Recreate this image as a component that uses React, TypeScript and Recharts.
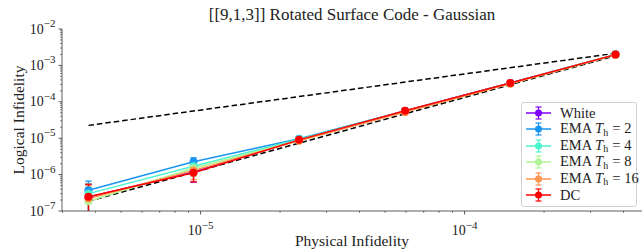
import React from 'react';
import { ComposedChart, Line, XAxis, YAxis, ErrorBar, Legend } from 'recharts';

// ---------- data ----------
const physicalInfidelity = [3.76e-6, 9.4e-6, 2.36e-5, 5.95e-5, 1.49e-4, 3.73e-4];

const whiteValues = [2.4e-7, 1.2e-6, 8.9e-6, 5.6e-5, 3.3e-4, 1.98e-3];
const ema2Values = [3.7e-7, 2.25e-6, 9.6e-6, 5.6e-5, 3.3e-4, 1.98e-3];
const ema4Values = [3.0e-7, 1.7e-6, 9.3e-6, 5.5e-5, 3.25e-4, 1.97e-3];
const ema8Values = [1.85e-7, 1.5e-6, 8.8e-6, 5.4e-5, 3.2e-4, 1.96e-3];
const ema16Values = [2.2e-7, 1.3e-6, 8.5e-6, 5.2e-5, 3.15e-4, 1.95e-3];
const dcValues = [2.45e-7, 1.12e-6, 9.0e-6, 5.7e-5, 3.3e-4, 1.98e-3];

// [lower, upper] error sizes
const whiteErrors = [[2.4e-7, 3.0e-7], [0.58e-6, 0.5e-6], [0, 0], [0, 0], [0, 0], [0, 0]];
const ema2Errors = [[3.7e-7, 2.9e-7], [0.7e-6, 0.65e-6], [0, 0], [0, 0], [0, 0], [0, 0]];
const ema4Errors = [[3.0e-7, 2.6e-7], [0.6e-6, 0.6e-6], [0, 0], [0, 0], [0, 0], [0, 0]];
const ema8Errors = [[1.85e-7, 2.6e-7], [0.6e-6, 0.6e-6], [0, 0], [0, 0], [0, 0], [0, 0]];
const ema16Errors = [[2.2e-7, 2.8e-7], [0.57e-6, 0.5e-6], [0, 0], [0, 0], [0, 0], [0, 0]];
const dcErrors = [[2.45e-7, 3.0e-7], [0.49e-6, 0.5e-6], [0, 0], [0, 0], [0, 0], [0, 0]];

// reference dashed lines (end points)
const refLineX = [3.76e-6, 3.73e-4];
const refLinearY = [2.25e-5, 2.15e-3];
const refQuadraticY = [1.84e-7, 1.85e-3];

const xMajorTicks = [1e-5, 1e-4];
const xMinorTicks = [3e-6, 4e-6, 5e-6, 6e-6, 7e-6, 8e-6, 9e-6, 2e-5, 3e-5, 4e-5, 5e-5, 6e-5, 7e-5, 8e-5, 9e-5, 2e-4, 3e-4, 4e-4];
const yMajorTicks = [1e-7, 1e-6, 1e-5, 1e-4, 1e-3, 1e-2];
const yMinorMultipliers = [2, 3, 4, 5, 6, 7, 8, 9];

const seriesKeys = ['white', 'ema2', 'ema4', 'ema8', 'ema16', 'dc'];
const seriesColors = ['#8000ff', '#1996f3', '#4df3ce', '#b2f396', '#ff964f', '#ff0000'];
const seriesValues = [whiteValues, ema2Values, ema4Values, ema8Values, ema16Values, dcValues];
const seriesErrors = [whiteErrors, ema2Errors, ema4Errors, ema8Errors, ema16Errors, dcErrors];
const legendLabels: Array<[string, string | null, string]> = [
  ['White', null, ''],
  ['EMA ', 'h', '2'],
  ['EMA ', 'h', '4'],
  ['EMA ', 'h', '8'],
  ['EMA ', 'h', '16'],
  ['DC', null, ''],
];

const TITLE = '[[9,1,3]] Rotated Surface Code - Gaussian';
const X_LABEL = 'Physical Infidelity';
const Y_LABEL = 'Logical Infidelity';

const X_DOMAIN: [number, number] = [2.985e-6, 4.7e-4];
const Y_DOMAIN: [number, number] = [1e-7, 1e-2];

// ---------- derived tables ----------
const data = physicalInfidelity.map((x, i) => {
  const row: Record<string, any> = { x };
  seriesKeys.forEach((k, s) => {
    const v = seriesValues[s][i];
    const [lo, hi] = seriesErrors[s][i];
    row[k] = v;
    if (v - lo <= Y_DOMAIN[0]) {
      row[k + 'Err'] = [0, hi];
      row[k + 'Clip'] = [v - Y_DOMAIN[0], 0];
    } else {
      row[k + 'Err'] = [lo, hi];
      row[k + 'Clip'] = [0, 0];
    }
  });
  return row;
});
const linearRef = refLineX.map((x, i) => ({ x, y: refLinearY[i] }));
const quadRef = refLineX.map((x, i) => ({ x, y: refQuadraticY[i] }));
const yMinorTicks = yMajorTicks.slice(0, -1).flatMap((m) => yMinorMultipliers.map((k) => k * m));
const xTicks = [...xMinorTicks, ...xMajorTicks].sort((a, b) => a - b);
const yTicks = [...yMinorTicks, ...yMajorTicks].sort((a, b) => a - b);

const FONT = 'Liberation Serif, Times New Roman, DejaVu Serif, serif';
const AXIS_COLOR = '#333';
const TEXT_COLOR = '#222';
const serifStyle = { fontFamily: FONT } as React.CSSProperties;

const isMajor = (v: number) => {
  const l = Math.log10(v);
  return Math.abs(l - Math.round(l)) < 1e-6;
};

const XTick = (props: any) => {
  const { x, y, payload } = props;
  const v = payload.value;
  const major = isMajor(v);
  const exp = Math.round(Math.log10(v));
  return (
    <g>
      <line x1={x} x2={x} y1={y} y2={y + (major ? 3.5 : 2)} stroke={AXIS_COLOR} strokeWidth={major ? 0.8 : 0.6} />
      {major && (
        <text x={x} y={y + 24} textAnchor="middle" fill={TEXT_COLOR} style={serifStyle}>
          <tspan fontSize={14}>10</tspan>
          <tspan fontSize={11} dy={-6.5}>{'\u2212' + Math.abs(exp)}</tspan>
        </text>
      )}
    </g>
  );
};

const YTick = (props: any) => {
  const { x, y, payload } = props;
  const v = payload.value;
  const major = isMajor(v);
  const exp = Math.round(Math.log10(v));
  return (
    <g>
      <line x1={x - (major ? 3.5 : 2)} x2={x} y1={y} y2={y} stroke={AXIS_COLOR} strokeWidth={major ? 0.8 : 0.6} />
      {major && (
        <text x={x - 6.5} y={y + 4.5} textAnchor="end" fill={TEXT_COLOR} style={serifStyle}>
          <tspan fontSize={14}>10</tspan>
          <tspan fontSize={11} dy={-6.5}>{'\u2212' + Math.abs(exp)}</tspan>
        </text>
      )}
    </g>
  );
};

const LegendBox = () => (
  <div
    style={{
      width: 116,
      height: 105,
      boxSizing: 'border-box',
      border: '1px solid #d0d0d0',
      borderRadius: 3,
      background: 'rgba(255,255,255,0.85)',
      position: 'relative',
      fontFamily: FONT,
      fontSize: 14.5,
      lineHeight: '16px',
      color: TEXT_COLOR,
    }}
  >
    {legendLabels.map((lab, i) => {
      const c = seriesColors[i];
      const top = 2.5 + i * 16.4;
      return (
        <div key={i} style={{ position: 'absolute', left: 3, top, height: 16, display: 'flex', alignItems: 'center', whiteSpace: 'nowrap' }}>
          <svg width={27} height={16} style={{ display: 'block' }}>
            <line x1={1} x2={26} y1={8} y2={8} stroke={c} strokeWidth={1.5} />
            <line x1={13.5} x2={13.5} y1={2} y2={14} stroke={c} strokeWidth={1.2} />
            <line x1={10.5} x2={16.5} y1={2} y2={2} stroke={c} strokeWidth={1.2} />
            <line x1={10.5} x2={16.5} y1={14} y2={14} stroke={c} strokeWidth={1.2} />
            <circle cx={13.5} cy={8} r={3.5} fill={c} />
          </svg>
          <span style={{ marginLeft: 8 }}>
            {lab[0]}
            {lab[1] && (
              <>
                <i>T</i>
                <sub style={{ fontSize: 10, verticalAlign: 'baseline', position: 'relative', top: 2.5 }}>{lab[1]}</sub>
                <span style={{ padding: '0 4px' }}>=</span>
                {lab[2]}
              </>
            )}
          </span>
        </div>
      );
    })}
  </div>
);

export default function App() {
  return (
    <div style={{ position: 'absolute', left: 0, top: 0, width: 644, height: 251, background: '#fff', fontFamily: FONT }}>
      <ComposedChart width={644} height={251} data={data} margin={{ top: 29, right: 2, left: 0, bottom: 0 }} style={serifStyle}>
        <XAxis
          xAxisId={0}
          dataKey="x"
          type="number"
          scale="log"
          domain={X_DOMAIN}
          allowDataOverflow
          ticks={xTicks}
          interval={0}
          tick={<XTick />}
          tickLine={false}
          tickSize={0}
          tickMargin={0}
          height={40}
          axisLine={{ stroke: AXIS_COLOR, strokeWidth: 0.8 }}
          label={{
            content: (p: any) => {
              const vb = p.viewBox;
              return (
                <text x={vb.x + vb.width / 2} y={246} textAnchor="middle" style={serifStyle} fontSize={15.5} fill={TEXT_COLOR}>
                  {X_LABEL}
                </text>
              );
            },
          }}
        />
        <XAxis
          xAxisId="top"
          orientation="top"
          dataKey="x"
          type="number"
          scale="log"
          domain={X_DOMAIN}
          allowDataOverflow
          height={0}
          tick={false}
          tickLine={false}
          axisLine={{ stroke: AXIS_COLOR, strokeWidth: 0.8 }}
        />
        <YAxis
          yAxisId={0}
          type="number"
          scale="log"
          domain={Y_DOMAIN}
          allowDataOverflow
          ticks={yTicks}
          interval={0}
          tick={<YTick />}
          tickLine={false}
          tickSize={0}
          tickMargin={0}
          width={62}
          axisLine={{ stroke: AXIS_COLOR, strokeWidth: 0.8 }}
          label={{
            content: (p: any) => {
              const vb = p.viewBox;
              const cy = vb.y + vb.height / 2;
              const plotCenterX = 62 + (644 - 2 - 62) / 2;
              return (
                <g>
                  <text x={18} y={cy} transform={`rotate(-90, 18, ${cy})`} textAnchor="middle" dominantBaseline="central" style={serifStyle} fontSize={15.5} fill={TEXT_COLOR}>
                    {Y_LABEL}
                  </text>
                  <text x={plotCenterX} y={20} textAnchor="middle" style={serifStyle} fontSize={17} fill={TEXT_COLOR}>
                    {TITLE}
                  </text>
                </g>
              );
            },
          }}
        />
        <YAxis
          yAxisId="right"
          orientation="right"
          type="number"
          scale="log"
          domain={Y_DOMAIN}
          allowDataOverflow
          width={0}
          tick={false}
          tickLine={false}
          axisLine={{ stroke: AXIS_COLOR, strokeWidth: 0.8 }}
        />
        <Line
          data={linearRef}
          dataKey="y"
          stroke="#000"
          strokeWidth={1.5}
          strokeDasharray="5.5 3"
          dot={false}
          activeDot={false}
          isAnimationActive={false}
          legendType="none"
        />
        <Line
          data={quadRef}
          dataKey="y"
          stroke="#000"
          strokeWidth={1.5}
          strokeDasharray="5.5 3"
          dot={false}
          activeDot={false}
          isAnimationActive={false}
          legendType="none"
        />
        {seriesKeys.map((k, i) => (
          <Line
            key={k}
            dataKey={k}
            stroke={seriesColors[i]}
            strokeWidth={1.5}
            dot={{ r: 4, fill: seriesColors[i], stroke: seriesColors[i], strokeWidth: 0 }}
            activeDot={false}
            isAnimationActive={false}
          >
            <ErrorBar dataKey={k + 'Err'} width={3.2} stroke={seriesColors[i]} strokeWidth={1.3} direction="y" isAnimationActive={false} />
            <ErrorBar dataKey={k + 'Clip'} width={0} stroke={seriesColors[i]} strokeWidth={1.3} direction="y" isAnimationActive={false} />
          </Line>
        ))}
        <Legend
          layout="vertical"
          align="center"
          verticalAlign="middle"
          content={() => <LegendBox />}
          wrapperStyle={{ left: 521, top: 101.5, width: 116, height: 105 }}
        />
      </ComposedChart>
    </div>
  );
}
